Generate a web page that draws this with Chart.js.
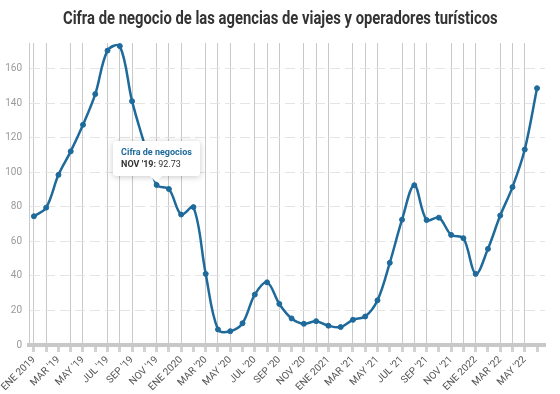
<!DOCTYPE html>
<html>
<head>
<meta charset="utf-8">
<script src="https://cdn.jsdelivr.net/npm/chart.js@4.4.0/dist/chart.umd.min.js"></script>
<style>
  body { margin: 0; background: #fff; font-family: Roboto, sans-serif; }
  #wrap { position: relative; width: 560px; height: 394px; }
  #title { position: absolute; top: 7px; left: 0; width: 560px; text-align: center; white-space: nowrap; }
  #title span { display: inline-block; font-weight: bold; font-size: 18px; color: #333; transform-origin: center; }
  #tip { position: absolute; opacity: 0; background: #fff; border-radius: 3px; padding: 5px 8px 6px;
         box-shadow: 0 1px 6px rgba(0,0,0,0.22); font-size: 9px; line-height: 12px; color: #333; white-space: nowrap; pointer-events: none; }
  #tip::after { content: ''; position: absolute; left: 50%; bottom: -6px; margin-left: -6px;
                border-left: 6px solid transparent; border-right: 6px solid transparent; border-top: 6px solid #fff; }
  #tip .t { color: #1e6a9b; font-weight: bold; }
  #tip b { color: #333; }
</style>
</head>
<body>
<div id="wrap">
  <canvas id="chart" width="560" height="394"></canvas>
  <div id="title"><span>Cifra de negocio de las agencias de viajes y operadores turísticos</span></div>
  <div id="tip"></div>
</div>
<script>
const months = [
  'ENE 2019', "FEB '19", "MAR '19", "ABR '19", "MAY '19", "JUN '19", "JUL '19", "AGO '19", "SEP '19", "OCT '19", "NOV '19", "DIC '19",
  'ENE 2020', "FEB '20", "MAR '20", "ABR '20", "MAY '20", "JUN '20", "JUL '20", "AGO '20", "SEP '20", "OCT '20", "NOV '20", "DIC '20",
  'ENE 2021', "FEB '21", "MAR '21", "ABR '21", "MAY '21", "JUN '21", "JUL '21", "AGO '21", "SEP '21", "OCT '21", "NOV '21", "DIC '21",
  'ENE 2022', "FEB '22", "MAR '22", "ABR '22", "MAY '22", "JUN '22",
];
const cifra = [
  74.6, 79.6, 98.6, 112.2, 127.6, 145.4, 170.6, 173.2, 141.3, 116.5, 92.73, 90.4,
  75.6, 79.9, 41.2, 9.0, 8.0, 12.6, 29.2, 36.3, 23.8, 15.4, 12.3, 13.8,
  11.2, 10.4, 14.6, 16.5, 25.9, 47.6, 72.6, 92.6, 72.4, 73.8, 63.8, 61.9,
  41.2, 55.7, 75.0, 91.5, 113.3, 148.8,
];
// months whose vertical grid line is not drawn in the original
const hiddenGrid = [2, 5, 9, 13, 17, 21, 25, 29, 33, 37, 41];

// squeeze the title to the condensed width of the original
const titleSpan = document.querySelector('#title span');
titleSpan.style.transform = `scaleX(${435 / titleSpan.offsetWidth})`;

function externalTip(context) {
  const { tooltip } = context;
  const el = document.getElementById('tip');
  if (tooltip.opacity === 0) {
    el.style.opacity = 0;
    return;
  }
  const dp = tooltip.dataPoints[0];
  el.innerHTML = `<div class="t">${dp.dataset.label}</div><div><b>${months[dp.dataIndex]}:</b> ${dp.raw.y}</div>`;
  el.style.opacity = 1;
  el.style.left = `${tooltip.caretX - el.offsetWidth / 2}px`;
  el.style.top = `${tooltip.caretY - el.offsetHeight - 9}px`;
}

const ctx = document.getElementById('chart').getContext('2d');
const chart = new Chart(ctx, {
  type: 'line',
  data: {
    datasets: [{
      label: 'Cifra de negocios',
      data: cifra.map((v, i) => ({ x: i, y: v })),
      borderColor: '#1e6a9b',
      backgroundColor: '#1e6a9b',
      borderWidth: 2.5,
      pointRadius: 2.5,
      pointBorderWidth: 1,
      pointHoverRadius: 2.5,
      tension: 0.35,
    }],
  },
  options: {
    responsive: false,
    animation: false,
    events: [],
    layout: { padding: { top: 43, right: 15, left: 0, bottom: 0 } },
    plugins: {
      legend: { display: false },
      title: { display: false },
      tooltip: { enabled: false, external: externalTip },
    },
    scales: {
      x: {
        type: 'linear',
        min: -0.4,
        max: 41.65,
        afterFit: (scale) => { scale.height = 49; },
        border: { display: true, color: '#c8c8c8', width: 4 },
        grid: {
          color: (c) => (c.tick && hiddenGrid.includes(c.tick.value) ? 'rgba(0,0,0,0)' : '#c9c9c9'),
          lineWidth: 1,
          drawTicks: true,
          tickLength: 7,
          tickWidth: 3,
          tickColor: '#d2d2d2',
        },
        ticks: {
          stepSize: 1,
          maxTicksLimit: 100,
          includeBounds: false,
          autoSkip: false,
          minRotation: 45,
          maxRotation: 45,
          padding: 2,
          color: '#555',
          font: { family: 'Roboto', size: 10 },
          callback: (v) => (v % 2 === 0 ? months[v] : ''),
        },
      },
      y: {
        min: 0,
        max: 175,
        afterFit: (scale) => { scale.width = 29; },
        border: { display: true, color: '#c9c9c9', width: 1, dash: [10, 5] },
        grid: {
          color: '#e4e4e4',
          lineWidth: 1,
          drawTicks: false,
        },
        ticks: {
          stepSize: 20,
          includeBounds: false,
          padding: 7,
          color: '#9a9a9a',
          font: { family: 'Roboto', size: 10 },
        },
      },
    },
  },
});

chart.tooltip.setActiveElements([{ datasetIndex: 0, index: 10 }], { x: 0, y: 0 });
chart.update();
</script>
</body>
</html>
